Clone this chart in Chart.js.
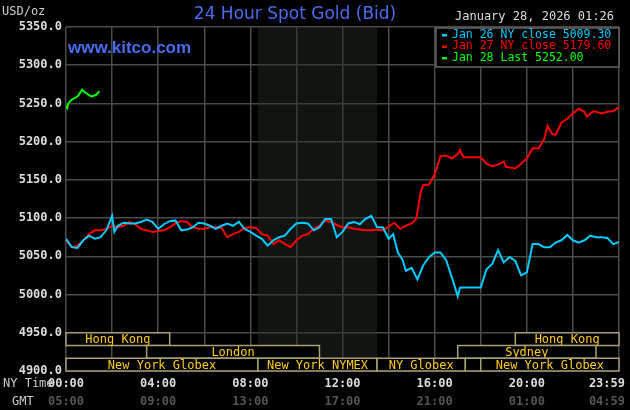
<!DOCTYPE html>
<html><head><meta charset="utf-8">
<script src="https://cdn.jsdelivr.net/npm/chart.js@4"></script>
<style>html,body{margin:0;padding:0;background:#000;}canvas{display:block;}</style>
</head><body>
<div style="width:630px;height:410px;position:relative"><canvas id="c" width="630" height="410"></canvas></div>
<script>
const jan26Hours = [0,0.25,0.5,0.75,1,1.25,1.5,1.75,2,2.1,2.25,2.5,2.75,3,3.25,3.5,3.75,4,4.25,4.5,4.75,5,5.25,5.5,5.75,6,6.25,6.5,6.75,7,7.25,7.5,7.75,8,8.25,8.5,8.75,9,9.25,9.5,9.75,10,10.25,10.5,10.75,11,11.25,11.5,11.6,11.75,12,12.25,12.5,12.75,13,13.25,13.5,13.75,14,14.2,14.4,14.6,14.75,15,15.25,15.5,15.75,16,16.25,16.5,16.75,17,17.1,17.25,18,18.25,18.5,18.75,19,19.25,19.5,19.75,20,20.25,20.5,20.75,21,21.25,21.5,21.75,22,22.25,22.5,22.75,23,23.25,23.5,23.75,24];
const jan26Values = [5073,5062,5061,5071,5077,5073,5075,5084,5103,5082,5090,5094,5093,5093,5095,5098,5095,5086,5092,5096,5097,5084,5085,5088,5094,5093,5090,5086,5090,5093,5090,5095,5086,5082,5077,5073,5064,5071,5075,5077,5086,5093,5094,5093,5084,5088,5099,5099,5090,5075,5082,5093,5095,5092,5099,5103,5088,5088,5073,5079,5055,5046,5031,5035,5020,5038,5049,5055,5055,5045,5022,4998,5009,5009.3,5009.3,5033,5040,5058,5042,5049,5044,5025,5029,5066,5066,5062,5062,5068,5071,5078,5071,5068,5071,5077,5075,5075,5074,5066,5069];
const jan27Hours = [0,0.25,0.5,0.75,1,1.25,1.5,1.75,2,2.25,2.5,2.75,3,3.25,3.5,3.75,4,4.25,4.5,4.75,5,5.25,5.5,5.75,6,6.25,6.5,6.75,7,7.25,7.5,7.75,8,8.25,8.5,8.75,9,9.25,9.5,9.75,10,10.25,10.5,10.75,11,11.25,11.5,11.75,12,12.25,12.5,12.75,13,13.25,13.5,13.75,14,14.25,14.5,14.75,15,15.2,15.4,15.5,15.75,16,16.25,16.5,16.75,17,17.1,17.25,18,18.25,18.5,18.75,19,19.1,19.5,19.75,20,20.25,20.5,20.75,20.9,21.1,21.25,21.5,21.75,22,22.25,22.5,22.6,22.9,23.25,23.5,23.75,24];
const jan27Values = [5071,5062,5064,5071,5079,5084,5084,5086,5090,5088,5090,5095,5092,5086,5084,5082,5083,5084,5088,5093,5096,5095,5088,5086,5086,5088,5088,5087,5075,5079,5082,5087,5088,5087,5079,5077,5066,5071,5066,5062,5071,5077,5079,5086,5090,5097,5095,5091,5088,5088,5086,5085,5084,5084,5085,5084,5089,5094,5086,5090,5093,5099,5134,5143,5144,5157,5181,5182,5178,5184,5189,5179.6,5179.6,5171,5168,5170,5174,5167,5165,5171,5178,5191,5191,5203,5221,5210,5209,5225,5230,5237,5243,5239,5233,5240,5237,5239,5240,5245];
const jan28Hours = [0,0.05,0.1,0.25,0.5,0.7,0.8,0.9,1.1,1.3,1.45];
const jan28Values = [5247,5244,5250,5255,5259,5268,5265,5263,5259,5261,5266];
const yTicks = [4900,4950,5000,5050,5100,5150,5200,5250,5300,5350];
const nyTimeLabels = ['00:00','04:00','08:00','12:00','16:00','20:00','23:59'];
const gmtLabels = ['05:00','09:00','13:00','17:00','21:00','01:00','04:59'];
const labelHours = [0,4,8,12,16,20,24];
const legendLabels = ['Jan 26 NY close 5009.30','Jan 27 NY close 5179.60','Jan 28 Last 5252.00'];
const seriesColors = ['#00ccff','#ff0000','#00ff00'];
// sessions: [row, start hour, end hour, label]
const sessionRow = [0,0,1,1,2,2,2,2,2];
const sessionStart = [0,19.5,3.5,17,0,8.33,13.5,17.33,18];
const sessionEnd = [4.5,24,11,23,8.33,13.5,17.33,18,24];
const sessionName = ['Hong Kong','Hong Kong','London','Sydney','New York Globex','New York NYMEX','NY Globex','','New York Globex'];
const nymexShade = [8.33,13.5];

const pts=(h,v)=>h.map((x,i)=>({x,y:v[i]}));
const mono='"DejaVu Sans Mono", monospace';

const deco={id:'deco',
 beforeDatasetsDraw(ch){const {ctx,chartArea:a,scales:{x,y}}=ch;
  ctx.save();ctx.fillStyle='rgba(40,45,40,0.45)';
  const x1=x.getPixelForValue(nymexShade[0]),x2=x.getPixelForValue(nymexShade[1]);
  ctx.fillRect(x1,a.top,x2-x1,a.bottom-a.top);ctx.restore();},
 afterDatasetsDraw(ch){const {ctx,chartArea:a,scales:{x,y}}=ch;ctx.save();
  const rowEdges=[4950,4933.33,4916.67,4900];
  ctx.font='12px '+mono;ctx.textAlign='center';ctx.textBaseline='middle';
  for(let i=0;i<sessionRow.length;i++){const r=sessionRow[i];
   const xa=x.getPixelForValue(sessionStart[i]),xb=x.getPixelForValue(sessionEnd[i]);
   const ya=y.getPixelForValue(rowEdges[r]),yb=y.getPixelForValue(rowEdges[r+1]);
   ctx.fillStyle='#000';ctx.fillRect(xa,ya,xb-xa,yb-ya);
   ctx.strokeStyle='#a8a070';ctx.lineWidth=1.5;ctx.strokeRect(xa,ya,xb-xa,yb-ya);
   ctx.fillStyle='#ffcc22';ctx.fillText(sessionName[i],(xa+xb)/2,(ya+yb)/2+1);}
  ctx.fillStyle='#000';ctx.fillRect(436,28,183,39);
  ctx.strokeStyle='#666';ctx.lineWidth=1.5;ctx.strokeRect(436,28,183,39);
  ctx.textAlign='left';ctx.font='11.5px '+mono;
  legendLabels.forEach((t,i)=>{ctx.fillStyle=seriesColors[i];ctx.fillRect(442,34+i*11.5,5,2.5);ctx.fillText(t,452,35+i*11.5);});
  ctx.fillStyle='#4a6cf0';ctx.font='bold 17px "Liberation Sans", Arial';ctx.textBaseline='middle';
  ctx.fillText('www.kitco.com',68,48);
  ctx.font='bold 12px '+mono;
  labelHours.forEach((h,i)=>{const px=x.getPixelForValue(h);
   ctx.textAlign=i===labelHours.length-1?'right':'center';const px2=i===labelHours.length-1?625:px;
   ctx.fillStyle='#dddddd';ctx.fillText(nyTimeLabels[i],px2,384);
   ctx.fillStyle='#555555';ctx.fillText(gmtLabels[i],px2,402);});
  ctx.font='12px '+mono;ctx.textAlign='left';
  ctx.fillStyle='#cccccc';ctx.fillText('NY Time',3,384);ctx.fillText('GMT',12,402);
  ctx.fillText('USD/oz',2,12);
  ctx.fillStyle='#dddddd';ctx.font='12px '+mono;ctx.fillText('January 28, 2026 01:26',455,17);
  ctx.fillStyle='#4a6cf0';ctx.font='17px "DejaVu Sans", sans-serif';ctx.textAlign='center';
  ctx.fillText('24 Hour Spot Gold (Bid)',295,15);
  ctx.restore();}};

new Chart(document.getElementById('c'),{type:'line',
 data:{datasets:[
  {data:pts(jan26Hours,jan26Values),borderColor:seriesColors[0]},
  {data:pts(jan27Hours,jan27Values),borderColor:seriesColors[1]},
  {data:pts(jan28Hours,jan28Values),borderColor:seriesColors[2]}]},
 options:{responsive:false,animation:false,
  elements:{point:{radius:0},line:{borderWidth:2,tension:0}},
  layout:{padding:{top:27,right:11,bottom:0,left:0}},
  plugins:{legend:{display:false},tooltip:{enabled:false}},
  scales:{
   x:{type:'linear',min:0,max:24,border:{display:false},
    grid:{color:'#4a4a4a',lineWidth:1.5,drawTicks:false},
    ticks:{display:false,stepSize:2},
    afterFit:s=>{s.height=39;}},
   y:{min:4900,max:5350,border:{display:false},
    grid:{color:'#4a4a4a',lineWidth:1.5,drawTicks:false},
    afterBuildTicks:s=>{s.ticks=yTicks.map(v=>({value:v}));},
    ticks:{color:'#dddddd',font:{family:mono,size:12,weight:'bold'},padding:4,
     callback:v=>v.toFixed(1)},
    afterFit:s=>{s.width=66;}}}},
 plugins:[deco]});
</script></body></html>
